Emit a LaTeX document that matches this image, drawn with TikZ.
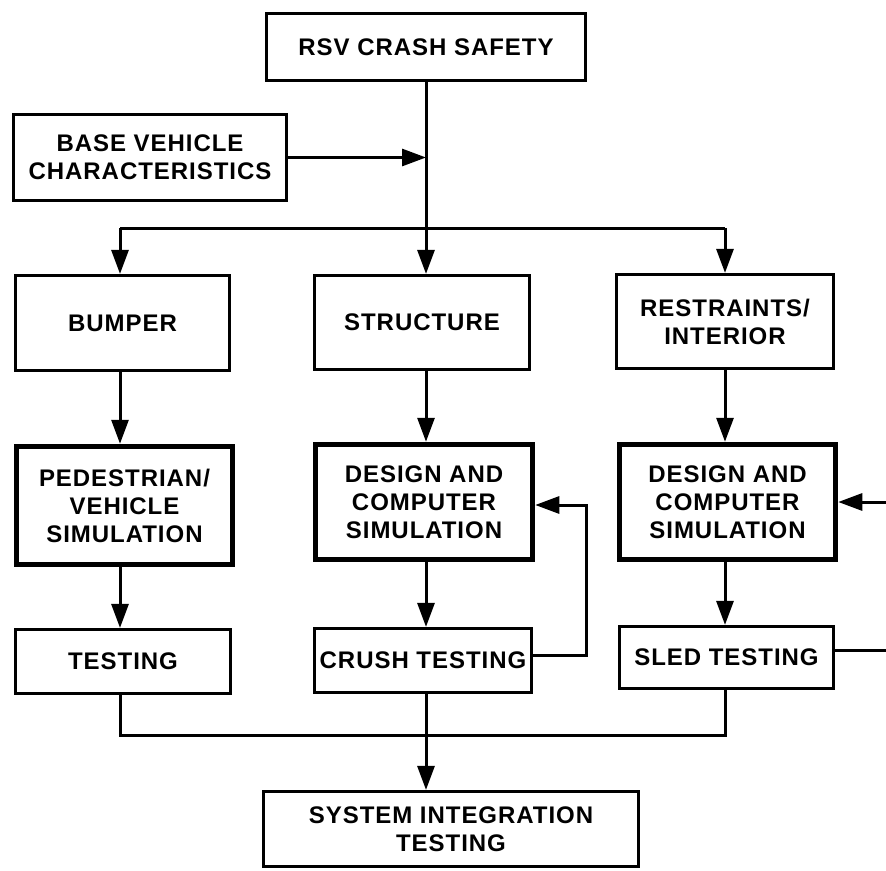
\documentclass[tikz,border=0pt]{standalone}
\usepackage{fontspec}
\setmainfont{Liberation Sans}[LetterSpace=4]
\usetikzlibrary{arrows.meta}
\begin{document}
\begin{tikzpicture}[x=1pt,y=-1pt,
  box/.style={draw, rectangle, line width=3.2pt, inner sep=0pt, align=center,
    font=\bfseries\fontsize{24}{28}\selectfont},
  simbox/.style={box, line width=5.5pt},
  conn/.style={line width=3pt},
  arr/.style={conn, -{Triangle[length=24pt,width=17pt]}}]
\useasboundingbox (0,0) rectangle (886,870);

% boxes
\node[box, minimum width=319pt, minimum height=67pt] (rsv) at (426,47) {RSV CRASH SAFETY};
\node[box, minimum width=273pt, minimum height=86pt] (base) at (150,157.5) {BASE VEHICLE\\CHARACTERISTICS};
\node[box, minimum width=214pt, minimum height=95pt] (bumper) at (122.5,323) {BUMPER};
\node[box, minimum width=215pt, minimum height=94pt] (structure) at (422,322.5) {STRUCTURE};
\node[box, minimum width=217pt, minimum height=94pt] (restraints) at (725,321.5) {RESTRAINTS/\\INTERIOR};
\node[simbox, minimum width=216pt, minimum height=118pt] (ped) at (124.5,505.5) {PEDESTRIAN/\\VEHICLE\\SIMULATION};
\node[simbox, minimum width=217pt, minimum height=115pt] (design1) at (424,502) {DESIGN AND\\COMPUTER\\SIMULATION};
\node[simbox, minimum width=216pt, minimum height=115pt] (design2) at (727.5,502) {DESIGN AND\\COMPUTER\\SIMULATION};
\node[box, minimum width=215pt, minimum height=64pt] (testing) at (123,661.5) {TESTING};
\node[box, minimum width=217pt, minimum height=64pt] (crush) at (423,660.5) {CRUSH TESTING};
\node[box, minimum width=214pt, minimum height=62pt] (sled) at (726.5,657.5) {SLED TESTING};
\node[box, minimum width=375pt, minimum height=75pt] (system) at (451,829) {SYSTEM INTEGRATION\\TESTING};

% helper coordinates
\coordinate (cL) at (120,228);
\coordinate (cM) at (426,228);
\coordinate (cR) at (725,228);
\coordinate (fb) at (586,0);
\coordinate (edgeR) at (886,0);
\coordinate (mL) at (120,735);
\coordinate (mR) at (725,735);

% top
\draw[arr] (rsv.south) -- (rsv.south |- structure.north);
\draw[arr] (base.east) -- (base.east -| rsv.south);
\draw[conn] (cL) -- (cR);
\draw[arr] (cL) -- (cL |- bumper.north);
\draw[arr] (cR) -- (cR |- restraints.north);

% level 2 to 3
\draw[arr] (bumper.south -| cL) -- (ped.north -| cL);
\draw[arr] (structure.south -| cM) -- (design1.north -| cM);
\draw[arr] (restraints.south -| cR) -- (design2.north -| cR);

% level 3 to 4
\draw[arr] (ped.south -| cL) -- (testing.north -| cL);
\draw[arr] (design1.south -| cM) -- (crush.north -| cM);
\draw[arr] (design2.south -| cR) -- (sled.north -| cR);

% feedback loops
\draw[arr] ([yshift=5pt]crush.east) -- ([yshift=5pt]crush.east -| fb) -- ([yshift=-3pt]design1.east -| fb) -- ([yshift=-3pt]design1.east);
\draw[conn] ([yshift=7pt]sled.east) -- ([yshift=7pt]sled.east -| edgeR);
\draw[arr] (design2.east -| edgeR) -- (design2.east);

% bottom merge
\draw[conn] (testing.south -| mL) -- (mL) -- (mR) -- (sled.south -| mR);
\draw[arr] (crush.south -| cM) -- (system.north -| cM);
\end{tikzpicture}
\end{document}
